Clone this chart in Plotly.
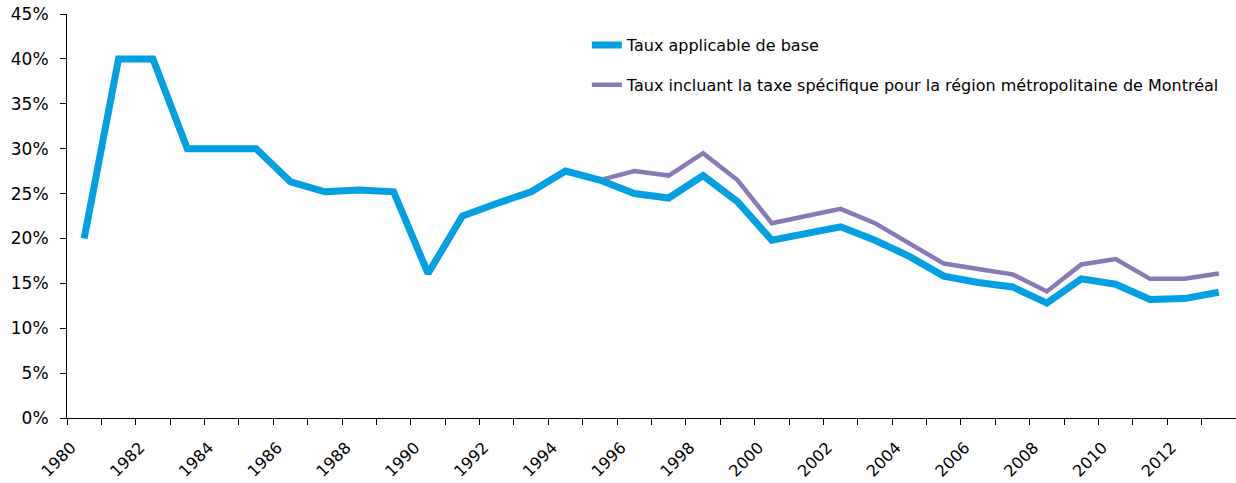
import plotly.graph_objects as go

years = list(range(1980, 2014))
taux_base = [20.0, 40.0, 40.0, 30.0, 30.0, 30.0, 26.3, 25.2, 25.4, 25.2,
             16.1, 22.5, 23.9, 25.2, 27.5, 26.5, 25.0, 24.5, 27.0, 24.1,
             19.8, 20.5, 21.3, 19.8, 18.0, 15.8, 15.1, 14.6, 12.8, 15.5,
             14.9, 13.2, 13.3, 14.0]
years_mtl = list(range(1995, 2014))
taux_mtl = [26.5, 27.5, 27.0, 29.5, 26.5, 21.7, 22.5, 23.3, 21.7, 19.5,
            17.2, 16.6, 16.0, 14.1, 17.1, 17.7, 15.5, 15.5, 16.1]

name_base = "Taux applicable de base"
name_mtl = "Taux incluant la taxe spécifique pour la région métropolitaine de Montréal"

FONT = "DejaVu Sans"
fig = go.Figure()
fig.add_trace(go.Scatter(x=years_mtl, y=taux_mtl, mode="lines", name=name_mtl,
                         line=dict(color="#8A79B6", width=4.5), legendrank=2,
                         legendgroup="b"))
fig.add_trace(go.Scatter(x=years, y=taux_base, mode="lines", name=name_base,
                         line=dict(color="#00A0E2", width=7), legendrank=1,
                         legendgroup="a"))

fig.update_layout(
    width=1236, height=483,
    margin=dict(l=67, r=0, t=14, b=65, autoexpand=False),
    paper_bgcolor="white", plot_bgcolor="white",
    font=dict(family=FONT, size=16, color="#000000"),
    showlegend=True,
    legend=dict(x=0.4447, y=0.965, xanchor="left", yanchor="top",
                bgcolor="rgba(0,0,0,0)", tracegroupgap=16,
                font=dict(family=FONT, size=16, color="#000000")),
    xaxis=dict(
        type="linear", range=[1979.5, 2013.5], automargin=False,
        tick0=1980, dtick=2, ticks="outside", ticklen=0,
        tickangle=-45, showgrid=False, zeroline=False,
        ticklabelstandoff=13, ticklabelshift=-13,
        showline=True, linecolor="#000000", linewidth=1,
        minor=dict(tick0=1979.5, dtick=1, ticks="outside", ticklen=6,
                   tickcolor="#000000", showgrid=False),
        tickfont=dict(family=FONT, size=16, color="#000000"),
    ),
    yaxis=dict(
        range=[0, 45], tick0=0, dtick=5, ticksuffix="%", automargin=False,
        ticks="outside", ticklen=6, tickcolor="#000000",
        showgrid=False, zeroline=False, ticklabelstandoff=8,
        showline=True, linecolor="#000000", linewidth=1,
        tickfont=dict(family=FONT, size=17, color="#000000"),
    ),
)

fig.write_html("out.html", config={"displayModeBar": False},
               post_script="document.body.style.margin='0';document.body.style.padding='0';")
